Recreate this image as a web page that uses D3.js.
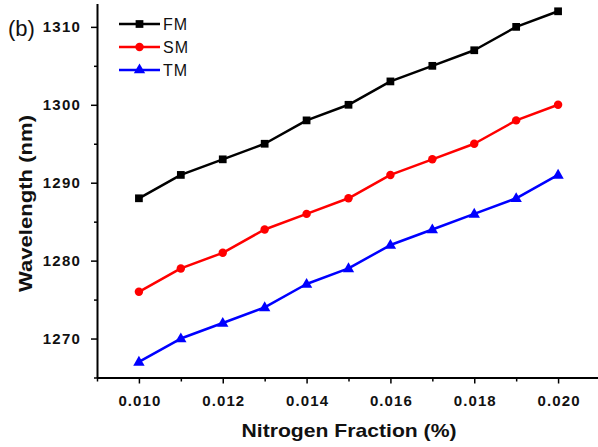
<!DOCTYPE html>
<html>
<head>
<meta charset="utf-8">
<script src="https://cdn.jsdelivr.net/npm/d3@7"></script>
<style>
  body { margin: 0; background: #fff; }
  svg { display: block; font-family: "Liberation Sans", Arial, sans-serif; }
</style>
</head>
<body>
<svg id="chart"></svg>
<script>
// nitrogen fraction (%)
const fractions = [0.010, 0.011, 0.012, 0.013, 0.014, 0.015, 0.016, 0.017, 0.018, 0.019, 0.020];
// wavelength (nm) per mode
const fm = [1288, 1291, 1293, 1295, 1298, 1300, 1303, 1305, 1307, 1310, 1312];
const sm = [1276, 1279, 1281, 1284, 1286, 1288, 1291, 1293, 1295, 1298, 1300];
const tm = [1267, 1270, 1272, 1274, 1277, 1279, 1282, 1284, 1286, 1288, 1291];
const seriesNames = ["FM", "SM", "TM"];
const xMajor = [0.010, 0.012, 0.014, 0.016, 0.018, 0.020];
const xMinor = [0.009, 0.011, 0.013, 0.015, 0.017, 0.019];
const yMajor = [1270, 1280, 1290, 1300, 1310];
const yMinor = [1265, 1275, 1285, 1295, 1305];

const svgWidth = 598, svgHeight = 447;
const svg = d3.select("#chart").attr("width", svgWidth).attr("height", svgHeight);

const x = d3.scaleLinear().domain([0.009, 0.021]).range([97, 600]);
const y = d3.scaleLinear().domain([1265, 1313]).range([377.5, 3.5]);

const series = [
  { name: seriesNames[0], values: fm, color: "#000000", symbol: d3.symbolSquare, size: 60 },
  { name: seriesNames[1], values: sm, color: "#ff0000", symbol: d3.symbolCircle, size: 56 },
  { name: seriesNames[2], values: tm, color: "#0000ff", symbol: d3.symbolTriangle, size: 56 }
];

// minor ticks first
svg.append("g")
  .attr("transform", "translate(0,377.5)")
  .call(d3.axisBottom(x).tickValues(xMinor).tickSize(4).tickFormat(""))
  .call(g => g.select(".domain").remove())
  .selectAll("line").attr("stroke-width", 1.5);

svg.append("g")
  .attr("transform", "translate(97,0)")
  .call(d3.axisLeft(y).tickValues(yMinor).tickSize(3).tickFormat(""))
  .call(g => g.select(".domain").remove())
  .selectAll("line").attr("stroke-width", 1.5);

const xAxis = svg.append("g")
  .attr("transform", "translate(0,377.5)")
  .call(d3.axisBottom(x).tickValues(xMajor).tickSize(6).tickSizeOuter(0).tickPadding(12)
    .tickFormat(d3.format(".3f")));
xAxis.select(".domain").attr("stroke-width", 2);
xAxis.selectAll("line").attr("stroke-width", 1.5);
xAxis.selectAll("text")
  .attr("font-size", 15).attr("font-weight", "bold").attr("fill", "#111")
  .attr("letter-spacing", 1.1).attr("dx", 0.5);

const yAxis = svg.append("g")
  .attr("transform", "translate(97,0)")
  .call(d3.axisLeft(y).tickValues(yMajor).tickSize(6).tickSizeOuter(0).tickPadding(10)
    .tickFormat(d3.format("d")));
yAxis.select(".domain").attr("stroke-width", 2);
yAxis.selectAll("line").attr("stroke-width", 1.5);
yAxis.selectAll("text")
  .attr("font-size", 15).attr("font-weight", "bold").attr("fill", "#111")
  .attr("letter-spacing", 1.2);

// axis titles
svg.append("text")
  .attr("x", 349).attr("y", 436.5)
  .attr("text-anchor", "middle")
  .attr("font-size", 18.5).attr("font-weight", "bold").attr("fill", "#111")
  .attr("textLength", 215).attr("lengthAdjust", "spacingAndGlyphs")
  .text("Nitrogen Fraction (%)");

svg.append("text")
  .attr("transform", "translate(31.5,203.5) rotate(-90)")
  .attr("text-anchor", "middle")
  .attr("font-size", 18.5).attr("font-weight", "bold").attr("fill", "#111")
  .attr("textLength", 177).attr("lengthAdjust", "spacingAndGlyphs")
  .text("Wavelength (nm)");

svg.append("text")
  .attr("x", 8).attr("y", 36)
  .attr("font-size", 22).attr("fill", "#111")
  .text("(b)");

// lines and markers
const line = d3.line()
  .x((d, i) => x(fractions[i]))
  .y(d => y(d));

series.forEach(s => {
  svg.append("path")
    .datum(s.values)
    .attr("fill", "none")
    .attr("stroke", s.color)
    .attr("stroke-width", 2.5)
    .attr("stroke-linejoin", "round")
    .attr("d", line);

  svg.selectAll(null)
    .data(s.values)
    .join("path")
    .attr("transform", (d, i) => `translate(${x(fractions[i])},${y(d) + (s.symbol === d3.symbolTriangle ? 0.5 : 0)})`)
    .attr("d", d3.symbol().type(s.symbol).size(s.size))
    .attr("fill", s.color);
});

// legend
const legend = svg.append("g");
series.forEach((s, i) => {
  const ly = 24 + i * 23;
  legend.append("line")
    .attr("x1", 119).attr("x2", 160)
    .attr("y1", ly).attr("y2", ly)
    .attr("stroke", s.color).attr("stroke-width", 2.5);
  legend.append("path")
    .attr("transform", `translate(139.5,${ly})`)
    .attr("d", d3.symbol().type(s.symbol).size(s.size))
    .attr("fill", s.color);
  legend.append("text")
    .attr("x", 163).attr("y", ly + 6)
    .attr("font-size", 16).attr("fill", "#111")
    .attr("letter-spacing", 1)
    .text(s.name);
});
</script>
</body>
</html>
